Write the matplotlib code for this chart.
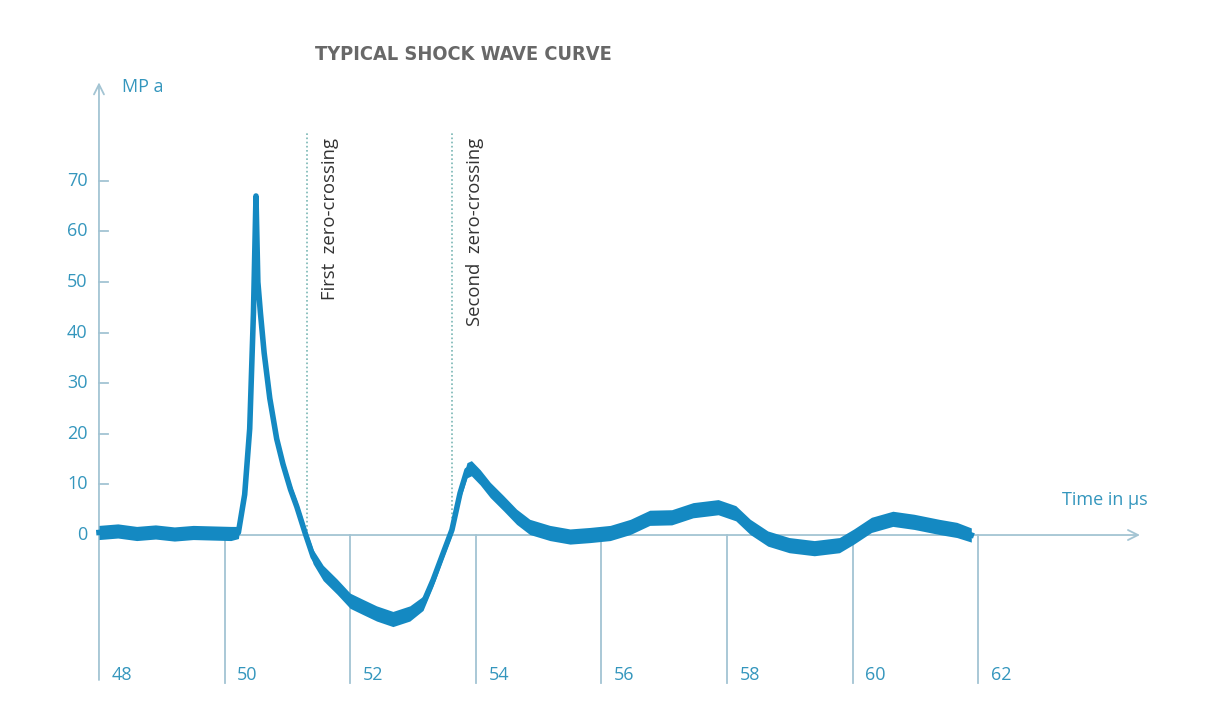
import numpy as np
import matplotlib.pyplot as plt

# pressure curve (time in µs, pressure in MPa)
time_us = [48.0, 48.3, 48.6, 48.9, 49.2, 49.5, 49.8, 50.1, 50.22, 50.32,
           50.40, 50.46, 50.50, 50.53, 50.57, 50.63, 50.72, 50.83, 50.93, 51.05,
           51.15, 51.28, 51.41, 51.57, 51.79, 52.0, 52.2, 52.42, 52.68, 52.95,
           53.16, 53.32, 53.48, 53.62, 53.75, 53.86, 53.93, 54.07, 54.23, 54.44,
           54.65, 54.86, 55.18, 55.5, 55.82, 56.14, 56.46, 56.77, 57.12, 57.46,
           57.86, 58.14, 58.37, 58.65, 58.99, 59.39, 59.79, 60.02, 60.30, 60.64,
           60.98, 61.38, 61.66, 61.89]
pressure = [0.5, 0.8, 0.3, 0.6, 0.2, 0.5, 0.4, 0.3, 0.5, 8,
            21, 44, 67, 50, 44, 36, 27, 19, 14, 9,
            5.6, 0.5, -4.3, -7.5, -10.2, -13.0, -14.2, -15.5, -16.6, -15.5,
            -13.5, -8.9, -3.6, 1.0, 8.3, 12.8, 13.2, 11.4, 8.9, 6.3,
            3.6, 1.6, 0.4, -0.3, 0.0, 0.4, 1.6, 3.4, 3.5, 4.9,
            5.5, 4.3, 1.6, -0.7, -2.0, -2.6, -2.0, -0.3, 2.0, 3.2,
            2.6, 1.6, 1.0, 0.0]
# half width of the noisy trace (MPa)
noise = [1.4, 1.4, 1.4, 1.4, 1.4, 1.4, 1.4, 1.4, 1.2, 0.8,
         0.8, 0.6, 0.4, 0.6, 0.8, 1.0, 1.2, 1.2, 1.2, 1.2,
         1.2, 1.2, 1.4, 1.5, 1.5, 1.5, 1.5, 1.5, 1.5, 1.5,
         1.4, 1.2, 1.0, 1.0, 1.2, 1.5, 1.5, 1.5, 1.5, 1.5,
         1.5, 1.5, 1.5, 1.5, 1.5, 1.5, 1.5, 1.5, 1.5, 1.5,
         1.5, 1.5, 1.5, 1.5, 1.5, 1.5, 1.5, 1.5, 1.5, 1.5,
         1.5, 1.5, 1.5, 1.4]

x_ticks = [48, 50, 52, 54, 56, 58, 60, 62]
y_ticks = [0, 10, 20, 30, 40, 50, 60, 70]
zero_crossings = [51.31, 53.62]
crossing_labels = ['First  zero-crossing', 'Second  zero-crossing']
label_x = [51.68, 53.99]

line_col = '#1489c2'
axis_col = '#a3c4d3'
tick_col = '#3496bd'

plt.rcParams['font.family'] = ['Open Sans', 'DejaVu Sans']

fig = plt.figure(figsize=(12.09, 7.19), dpi=100)
ax = fig.add_axes([0, 0, 1, 1])
ax.set_xlim(46.424, 65.675)
ax.set_ylim(-36.36, 105.73)
ax.axis('off')

bottom = -29.2

# axes with arrows
ax.annotate('', xy=(48, 90), xytext=(48, bottom),
            arrowprops=dict(arrowstyle='->', color=axis_col, lw=1.3, mutation_scale=18))
ax.annotate('', xy=(64.62, 0), xytext=(48, 0),
            arrowprops=dict(arrowstyle='->', color=axis_col, lw=1.3, mutation_scale=18))

# x ticks hanging below zero line
for t in x_ticks:
    if t != 48:
        ax.plot([t, t], [0, bottom], color=axis_col, lw=1.3)
    ax.text(t + 0.2, -27.6, str(t), color=tick_col, fontsize=13, ha='left', va='center')

# y ticks
for v in y_ticks:
    if v != 0:
        ax.plot([48, 48.14], [v, v], color=axis_col, lw=1.3)
    ax.text(47.82, v, str(v), color=tick_col, fontsize=13, ha='right', va='center')

ax.text(48.37, 88.5, 'MP a', color=tick_col, fontsize=13, ha='left', va='center')
ax.text(63.33, 6.9, 'Time in µs', color=tick_col, fontsize=13, ha='left', va='center')

# zero crossing markers
for xc, lab, lx in zip(zero_crossings, crossing_labels, label_x):
    ax.plot([xc, xc], [0, 79.4], color='#79b6b4', lw=1.2, ls=(0, (1, 1.5)))
    ax.text(lx, 78.5, lab, rotation=90, color='#333333', fontsize=13.3,
            ha='center', va='top')

# the shock wave trace
t = np.array(time_us)
p = np.array(pressure)
w = np.array(noise)
ax.fill_between(t, p - w, p + w, color=line_col, lw=0, zorder=3)
ax.plot(t, p, color=line_col, lw=4, zorder=4, solid_joinstyle='round')

fig.text(315 / 1209, 1 - 54 / 719, 'TYPICAL SHOCK WAVE CURVE',
         family='DejaVu Sans', stretch='condensed', weight='bold',
         fontsize=14.3, color='#686868', ha='left', va='center')

fig.savefig('out.png', dpi=100, facecolor='white')
